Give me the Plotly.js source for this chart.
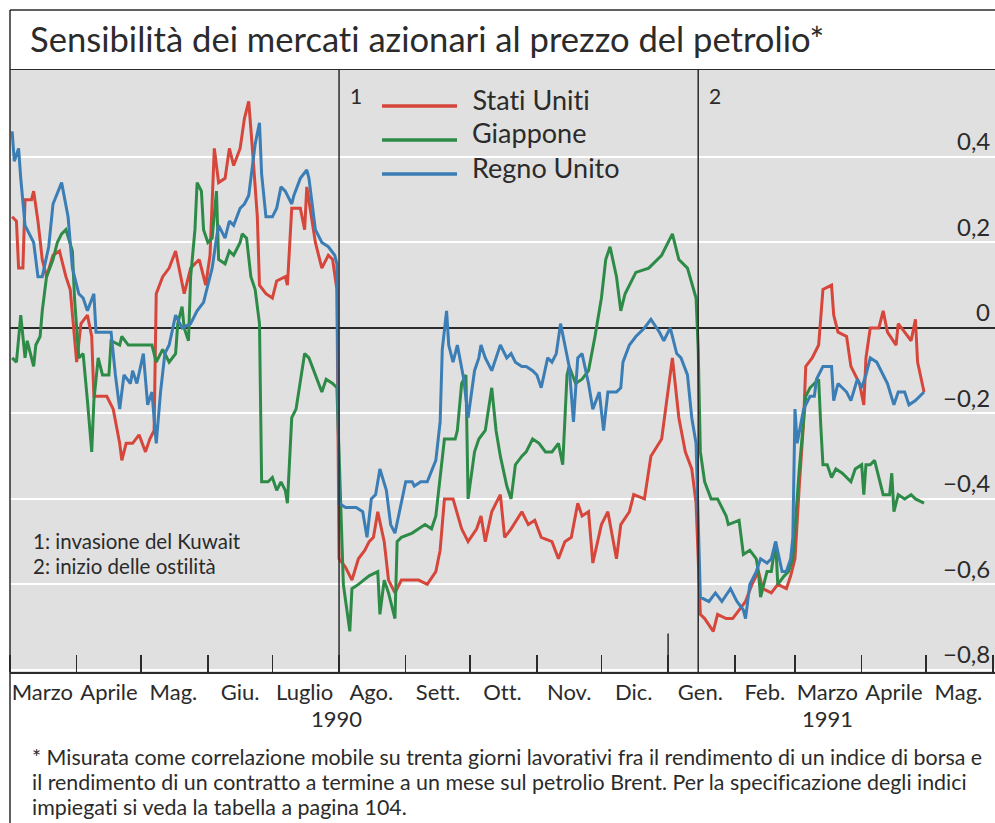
<!DOCTYPE html>
<html>
<head>
<meta charset="utf-8">
<script src="https://cdn.plot.ly/plotly-3.0.1.min.js"></script>
<style>
  html, body { margin: 0; padding: 0; background: #fff; }
  #chart { width: 995px; height: 823px; }
  #chart text { font-variant-ligatures: none; font-feature-settings: "liga" 0; }
</style>
</head>
<body>
<div id="chart"></div>
<script>
// month labels as printed, placed in the middle of each month
let month_labels = ["Marzo", "Aprile", "Mag.", "Giu.", "Luglio", "Ago.", "Sett.", "Ott.",
  "Nov.", "Dic.", "Gen.", "Feb.", "Marzo", "Aprile", "Mag."];
let month_mids = ["1990-03-16", "1990-04-16", "1990-05-16", "1990-06-16", "1990-07-16",
  "1990-08-16", "1990-09-16", "1990-10-16", "1990-11-16", "1990-12-16", "1991-01-16",
  "1991-02-15", "1991-03-16", "1991-04-16", "1991-05-16"];

let y_ticks = [-0.8, -0.6, -0.4, -0.2, 0, 0.2, 0.4];
let y_tick_labels = ["\u22120,8", "\u22120,6", "\u22120,4", "\u22120,2", "0", "0,2", "0,4"];

let series_names = ["Stati Uniti", "Giappone", "Regno Unito"];
let series_colors = ["#d6463b", "#2e8b47", "#3b7db5"];

// Stati Uniti
let dates_us = ["1990-03-02","1990-03-04","1990-03-05","1990-03-07","1990-03-08","1990-03-11","1990-03-12","1990-03-14","1990-03-16","1990-03-18","1990-03-21","1990-03-24","1990-03-27","1990-03-29","1990-04-01","1990-04-03","1990-04-06","1990-04-08","1990-04-09","1990-04-15","1990-04-18","1990-04-21","1990-04-22","1990-04-24","1990-04-27","1990-04-30","1990-05-03","1990-05-05","1990-05-07","1990-05-08","1990-05-11","1990-05-14","1990-05-17","1990-05-19","1990-05-21","1990-05-24","1990-05-28","1990-05-31","1990-06-02","1990-06-04","1990-06-06","1990-06-09","1990-06-11","1990-06-13","1990-06-16","1990-06-18","1990-06-20","1990-06-22","1990-06-24","1990-06-25","1990-06-28","1990-07-01","1990-07-03","1990-07-07","1990-07-08","1990-07-10","1990-07-14","1990-07-16","1990-07-17","1990-07-21","1990-07-24","1990-07-27","1990-07-29","1990-07-31","1990-08-01","1990-08-04","1990-08-07","1990-08-10","1990-08-13","1990-08-15","1990-08-17","1990-08-19","1990-08-22","1990-08-24","1990-08-27","1990-08-30","1990-09-02","1990-09-07","1990-09-11","1990-09-15","1990-09-17","1990-09-19","1990-09-23","1990-09-27","1990-09-30","1990-10-04","1990-10-06","1990-10-08","1990-10-11","1990-10-15","1990-10-17","1990-10-20","1990-10-25","1990-10-28","1990-10-31","1990-11-03","1990-11-08","1990-11-11","1990-11-14","1990-11-17","1990-11-20","1990-11-22","1990-11-25","1990-11-27","1990-12-01","1990-12-04","1990-12-08","1990-12-10","1990-12-14","1990-12-16","1990-12-21","1990-12-24","1990-12-29","1990-12-31","1991-01-03","1991-01-06","1991-01-09","1991-01-12","1991-01-14","1991-01-16","1991-01-18","1991-01-22","1991-01-24","1991-01-28","1991-01-31","1991-02-03","1991-02-06","1991-02-09","1991-02-12","1991-02-14","1991-02-18","1991-02-21","1991-02-25","1991-02-27","1991-03-01","1991-03-03","1991-03-05","1991-03-06","1991-03-09","1991-03-12","1991-03-14","1991-03-18","1991-03-19","1991-03-21","1991-03-25","1991-03-27","1991-03-31","1991-04-02","1991-04-03","1991-04-05","1991-04-09","1991-04-11","1991-04-13","1991-04-17","1991-04-18","1991-04-21","1991-04-24","1991-04-26","1991-04-27","1991-04-30"];
let values_us = [0.26,0.25,0.14,0.14,0.30,0.30,0.32,0.25,0.16,0.12,0.17,0.18,0.12,0.09,-0.08,0.01,0.03,-0.02,-0.16,-0.16,-0.19,-0.27,-0.31,-0.27,-0.27,-0.25,-0.29,-0.26,-0.24,0.08,0.12,0.14,0.18,0.13,0.08,0.14,0.16,0.10,0.17,0.42,0.34,0.35,0.42,0.38,0.42,0.49,0.53,0.40,0.26,0.10,0.08,0.07,0.11,0.12,0.10,0.28,0.28,0.23,0.33,0.20,0.14,0.17,0.16,0.09,-0.54,-0.56,-0.59,-0.54,-0.52,-0.50,-0.49,-0.43,-0.50,-0.59,-0.62,-0.59,-0.59,-0.59,-0.60,-0.57,-0.52,-0.40,-0.40,-0.47,-0.50,-0.47,-0.44,-0.50,-0.43,-0.39,-0.49,-0.47,-0.43,-0.46,-0.45,-0.49,-0.50,-0.54,-0.50,-0.49,-0.41,-0.44,-0.43,-0.55,-0.46,-0.43,-0.54,-0.46,-0.43,-0.39,-0.40,-0.30,-0.26,-0.18,-0.07,-0.21,-0.29,-0.33,-0.41,-0.67,-0.68,-0.71,-0.67,-0.68,-0.68,-0.66,-0.64,-0.60,-0.57,-0.61,-0.62,-0.60,-0.61,-0.58,-0.54,-0.37,-0.22,-0.09,-0.07,-0.04,0.09,0.10,0.03,-0.01,-0.02,-0.09,-0.13,-0.18,-0.07,0.00,0.00,0.04,-0.01,-0.04,0.01,-0.01,-0.03,0.02,-0.08,-0.15];

// Giappone
let dates_jp = ["1990-03-02","1990-03-04","1990-03-06","1990-03-08","1990-03-09","1990-03-12","1990-03-13","1990-03-15","1990-03-16","1990-03-18","1990-03-21","1990-03-23","1990-03-25","1990-03-27","1990-03-30","1990-03-31","1990-04-02","1990-04-04","1990-04-06","1990-04-08","1990-04-09","1990-04-11","1990-04-13","1990-04-16","1990-04-17","1990-04-21","1990-04-22","1990-04-25","1990-04-30","1990-05-06","1990-05-08","1990-05-11","1990-05-14","1990-05-17","1990-05-18","1990-05-20","1990-05-21","1990-05-23","1990-05-24","1990-05-26","1990-05-27","1990-05-29","1990-05-30","1990-06-01","1990-06-03","1990-06-05","1990-06-06","1990-06-09","1990-06-11","1990-06-13","1990-06-16","1990-06-17","1990-06-19","1990-06-21","1990-06-23","1990-06-25","1990-06-26","1990-06-29","1990-07-01","1990-07-03","1990-07-05","1990-07-07","1990-07-08","1990-07-10","1990-07-12","1990-07-14","1990-07-16","1990-07-18","1990-07-21","1990-07-24","1990-07-26","1990-07-29","1990-07-31","1990-08-03","1990-08-06","1990-08-07","1990-08-10","1990-08-15","1990-08-19","1990-08-20","1990-08-22","1990-08-24","1990-08-27","1990-08-28","1990-08-30","1990-09-04","1990-09-07","1990-09-10","1990-09-13","1990-09-15","1990-09-19","1990-09-22","1990-09-24","1990-09-25","1990-09-27","1990-09-29","1990-09-30","1990-10-03","1990-10-05","1990-10-08","1990-10-11","1990-10-13","1990-10-15","1990-10-18","1990-10-20","1990-10-22","1990-10-25","1990-10-27","1990-10-30","1990-11-02","1990-11-05","1990-11-08","1990-11-11","1990-11-13","1990-11-15","1990-11-16","1990-11-19","1990-11-22","1990-11-25","1990-11-28","1990-12-01","1990-12-03","1990-12-05","1990-12-08","1990-12-10","1990-12-12","1990-12-17","1990-12-23","1990-12-29","1991-01-03","1991-01-06","1991-01-10","1991-01-14","1991-01-15","1991-01-16","1991-01-18","1991-01-21","1991-01-24","1991-01-28","1991-01-29","1991-02-03","1991-02-05","1991-02-08","1991-02-11","1991-02-12","1991-02-13","1991-02-16","1991-02-18","1991-02-20","1991-02-21","1991-02-24","1991-02-26","1991-02-28","1991-03-01","1991-03-03","1991-03-06","1991-03-08","1991-03-10","1991-03-12","1991-03-13","1991-03-14","1991-03-16","1991-03-18","1991-03-20","1991-03-23","1991-03-27","1991-03-29","1991-04-01","1991-04-02","1991-04-03","1991-04-05","1991-04-07","1991-04-09","1991-04-11","1991-04-14","1991-04-15","1991-04-16","1991-04-18","1991-04-21","1991-04-24","1991-04-26","1991-04-30"];
let values_jp = [-0.07,-0.08,0.03,-0.07,-0.03,-0.09,-0.04,-0.02,0.04,0.12,0.16,0.20,0.22,0.23,0.18,0.07,-0.07,-0.06,-0.17,-0.29,-0.17,-0.07,-0.11,-0.11,-0.03,-0.04,-0.02,-0.04,-0.04,-0.04,-0.08,-0.05,-0.08,-0.06,0.01,0.05,0.00,-0.03,0.12,0.23,0.34,0.32,0.23,0.20,0.21,0.32,0.16,0.15,0.18,0.17,0.20,0.22,0.21,0.12,0.09,0.01,-0.36,-0.36,-0.35,-0.38,-0.36,-0.38,-0.41,-0.21,-0.19,-0.12,-0.06,-0.07,-0.11,-0.15,-0.12,-0.13,-0.14,-0.60,-0.71,-0.61,-0.60,-0.58,-0.57,-0.67,-0.59,-0.62,-0.68,-0.50,-0.49,-0.48,-0.47,-0.46,-0.47,-0.44,-0.26,-0.26,-0.26,-0.24,-0.13,-0.11,-0.40,-0.29,-0.26,-0.24,-0.14,-0.24,-0.30,-0.37,-0.40,-0.32,-0.30,-0.29,-0.26,-0.27,-0.29,-0.29,-0.27,-0.32,-0.11,-0.09,-0.13,-0.12,-0.10,-0.02,0.07,0.16,0.19,0.12,0.04,0.08,0.13,0.14,0.17,0.22,0.16,0.14,0.07,-0.05,-0.29,-0.36,-0.40,-0.40,-0.44,-0.46,-0.45,-0.53,-0.52,-0.54,-0.57,-0.63,-0.57,-0.57,-0.50,-0.60,-0.58,-0.57,-0.54,-0.47,-0.33,-0.16,-0.14,-0.13,-0.12,-0.23,-0.32,-0.32,-0.35,-0.33,-0.34,-0.36,-0.33,-0.32,-0.39,-0.32,-0.32,-0.31,-0.35,-0.39,-0.39,-0.34,-0.43,-0.39,-0.40,-0.39,-0.40,-0.41];

// Regno Unito
let dates_uk = ["1990-03-02","1990-03-03","1990-03-05","1990-03-06","1990-03-08","1990-03-12","1990-03-14","1990-03-16","1990-03-19","1990-03-21","1990-03-25","1990-03-28","1990-03-30","1990-04-02","1990-04-04","1990-04-06","1990-04-09","1990-04-10","1990-04-15","1990-04-17","1990-04-19","1990-04-21","1990-04-23","1990-04-26","1990-04-27","1990-04-29","1990-05-02","1990-05-04","1990-05-06","1990-05-08","1990-05-10","1990-05-12","1990-05-14","1990-05-17","1990-05-20","1990-05-24","1990-05-27","1990-05-30","1990-06-01","1990-06-03","1990-06-05","1990-06-06","1990-06-09","1990-06-11","1990-06-13","1990-06-16","1990-06-18","1990-06-20","1990-06-23","1990-06-25","1990-06-26","1990-06-28","1990-07-01","1990-07-03","1990-07-05","1990-07-07","1990-07-10","1990-07-11","1990-07-14","1990-07-17","1990-07-18","1990-07-21","1990-07-24","1990-07-27","1990-07-30","1990-07-31","1990-08-01","1990-08-04","1990-08-09","1990-08-12","1990-08-14","1990-08-16","1990-08-18","1990-08-20","1990-08-23","1990-08-25","1990-08-27","1990-08-30","1990-09-01","1990-09-04","1990-09-05","1990-09-08","1990-09-11","1990-09-15","1990-09-17","1990-09-18","1990-09-20","1990-09-21","1990-09-23","1990-09-25","1990-09-28","1990-09-30","1990-10-03","1990-10-05","1990-10-06","1990-10-08","1990-10-11","1990-10-13","1990-10-15","1990-10-18","1990-10-20","1990-10-22","1990-10-25","1990-10-27","1990-10-30","1990-11-01","1990-11-03","1990-11-06","1990-11-08","1990-11-10","1990-11-12","1990-11-14","1990-11-16","1990-11-18","1990-11-20","1990-11-22","1990-11-25","1990-11-27","1990-11-30","1990-12-02","1990-12-04","1990-12-08","1990-12-10","1990-12-11","1990-12-14","1990-12-17","1990-12-21","1990-12-24","1990-12-28","1990-12-30","1991-01-02","1991-01-05","1991-01-07","1991-01-10","1991-01-12","1991-01-14","1991-01-16","1991-01-20","1991-01-23","1991-01-26","1991-01-30","1991-02-02","1991-02-05","1991-02-06","1991-02-08","1991-02-11","1991-02-13","1991-02-16","1991-02-18","1991-02-20","1991-02-23","1991-02-25","1991-02-27","1991-02-28","1991-03-01","1991-03-02","1991-03-05","1991-03-08","1991-03-10","1991-03-11","1991-03-14","1991-03-18","1991-03-19","1991-03-21","1991-03-25","1991-03-27","1991-03-30","1991-04-01","1991-04-03","1991-04-05","1991-04-08","1991-04-11","1991-04-13","1991-04-16","1991-04-18","1991-04-21","1991-04-23","1991-04-26","1991-04-30"];
let values_uk = [0.46,0.39,0.42,0.35,0.24,0.20,0.12,0.12,0.19,0.29,0.34,0.26,0.14,0.08,0.07,0.04,0.08,-0.01,-0.01,-0.01,-0.11,-0.19,-0.11,-0.13,-0.10,-0.13,-0.06,-0.18,-0.15,-0.27,-0.15,-0.06,-0.04,0.03,0.00,0.01,0.04,0.06,0.10,0.14,0.21,0.24,0.21,0.25,0.24,0.28,0.29,0.31,0.43,0.48,0.36,0.26,0.26,0.28,0.33,0.32,0.29,0.31,0.35,0.37,0.35,0.23,0.20,0.19,0.17,0.15,-0.41,-0.42,-0.42,-0.43,-0.49,-0.40,-0.39,-0.33,-0.38,-0.46,-0.48,-0.41,-0.36,-0.36,-0.37,-0.36,-0.36,-0.31,-0.22,-0.05,0.04,-0.04,-0.08,-0.04,-0.12,-0.21,-0.10,-0.07,-0.04,-0.07,-0.10,-0.07,-0.04,-0.07,-0.06,-0.08,-0.09,-0.09,-0.10,-0.11,-0.14,-0.07,-0.08,-0.06,0.01,-0.04,-0.09,-0.22,-0.07,-0.06,-0.13,-0.19,-0.15,-0.24,-0.15,-0.15,-0.14,-0.08,-0.04,-0.02,0.00,0.02,-0.01,-0.03,0.00,-0.06,-0.07,-0.11,-0.21,-0.27,-0.63,-0.64,-0.62,-0.64,-0.61,-0.64,-0.66,-0.68,-0.60,-0.57,-0.54,-0.55,-0.54,-0.50,-0.57,-0.57,-0.54,-0.49,-0.19,-0.27,-0.19,-0.16,-0.16,-0.12,-0.09,-0.09,-0.17,-0.13,-0.15,-0.17,-0.12,-0.14,-0.11,-0.07,-0.08,-0.11,-0.13,-0.18,-0.15,-0.15,-0.18,-0.17,-0.15];

let event_dates = ["1990-08-01", "1991-01-15"];
let event_labels = ["1", "2"];
let year_labels = ["1990", "1991"];
let year_dates = ["1990-07-31", "1991-03-16"];
let event_notes = ["1: invasione del Kuwait", "2: inizio delle ostilità"];
let footnote_lines = [
  "* Misurata come correlazione mobile su trenta giorni lavorativi fra il rendimento di un indice di borsa e",
  "il rendimento di un contratto a termine a un mese sul petrolio Brent. Per la specificazione degli indici",
  "impiegati si veda la tabella a pagina 104.",
];

let ink = "#2b2b2b";
let all_dates = [dates_us, dates_jp, dates_uk];
let all_values = [values_us, values_jp, values_uk];

let data = [];
for (let i = 0; i < series_names.length; i++) {
  data.push({
    x: all_dates[i],
    y: all_values[i],
    name: series_names[i],
    mode: "lines",
    type: "scatter",
    line: { color: series_colors[i], width: 3 },
  });
}

// paper coordinates of the frame (plot area is 70..672 px tall on an 823 px page)
let plot_h = 602;
function paper_y(px) {
  return (672 - px) / plot_h;
}
function paper_x(px) {
  return (px - 10) / 985;
}

let shapes = [
  { type: "line", xref: "paper", yref: "paper", x0: 0, x1: 1, y0: paper_y(10), y1: paper_y(10),
    line: { color: ink, width: 1.5 } },
  { type: "line", xref: "paper", yref: "paper", x0: 0, x1: 0, y0: paper_y(823), y1: paper_y(10),
    line: { color: ink, width: 1.5 } },
  // taller tick at the turn of the year
  { type: "line", xref: "x", yref: "y", x0: "1991-01-01", x1: "1991-01-01", y0: -0.805, y1: -0.715,
    line: { color: ink, width: 1.5 } },
];
let annotations = [];

// value labels sit just above their gridline, inside the right edge
for (let i = 0; i < y_ticks.length; i++) {
  annotations.push({
    text: y_tick_labels[i], xref: "paper", yref: "y", x: 1, y: y_ticks[i],
    xanchor: "right", yanchor: "middle", xshift: -3, yshift: 16, showarrow: false,
    font: { size: 24, color: ink },
  });
}

for (let i = 0; i < event_dates.length; i++) {
  shapes.push({
    type: "line", xref: "x", yref: "paper", x0: event_dates[i], x1: event_dates[i], y0: 0, y1: 1,
    line: { color: ink, width: 1.5 }, layer: "above",
  });
  annotations.push({
    text: event_labels[i], xref: "x", yref: "paper", x: event_dates[i], y: paper_y(96),
    xanchor: "left", yanchor: "middle", xshift: 9, showarrow: false, font: { size: 21, color: ink },
  });
}

// legend drawn by hand so the line samples can be long
let legend_y = [106, 140, 174];
for (let i = 0; i < series_names.length; i++) {
  shapes.push({
    type: "line", xref: "paper", yref: "paper", x0: paper_x(382), x1: paper_x(457),
    y0: paper_y(legend_y[i]), y1: paper_y(legend_y[i]),
    line: { color: series_colors[i], width: 3.5 },
  });
  annotations.push({
    text: series_names[i], xref: "paper", yref: "paper", x: paper_x(470), y: paper_y(legend_y[i] - 7),
    xanchor: "left", yanchor: "middle", showarrow: false, font: { size: 27, color: ink },
  });
}

for (let i = 0; i < year_labels.length; i++) {
  annotations.push({
    text: year_labels[i], xref: "x", yref: "paper", x: year_dates[i], y: paper_y(718),
    xanchor: "center", yanchor: "middle", showarrow: false, font: { size: 22, color: ink },
  });
}

for (let i = 0; i < event_notes.length; i++) {
  annotations.push({
    text: event_notes[i], xref: "paper", yref: "paper", x: paper_x(31), y: paper_y(541 + 25 * i),
    xanchor: "left", yanchor: "middle", align: "left", showarrow: false,
    font: { size: 20.5, color: ink },
  });
}

for (let i = 0; i < footnote_lines.length; i++) {
  annotations.push({
    text: footnote_lines[i], xref: "paper", yref: "paper", x: paper_x(30), y: paper_y(757 + 25 * i),
    xanchor: "left", yanchor: "middle", align: "left", showarrow: false,
    font: { size: 21.4, color: ink },
  });
}

let layout = {
  width: 995,
  height: 823,
  margin: { l: 10, r: 0, t: 70, b: 151 },
  paper_bgcolor: "#ffffff",
  plot_bgcolor: "#e0e0e0",
  font: { family: "Lato, 'Open Sans', sans-serif", color: ink },
  showlegend: false,
  title: {
    text: "Sensibilità dei mercati azionari al prezzo del petrolio*",
    font: { size: 34.6, color: ink },
    xref: "container", yref: "container",
    x: 30 / 995, xanchor: "left",
    y: 1 - 40 / 823, yanchor: "middle",
  },
  xaxis: {
    type: "date",
    range: ["1990-03-01", "1991-06-02"],
    tickmode: "array",
    tickvals: month_mids,
    ticktext: month_labels,
    ticks: "",
    tickfont: { size: 22, color: ink },
    minor: {
      tick0: "1990-03-01",
      dtick: "M1",
      ticks: "inside",
      ticklen: 17,
      tickwidth: 1.5,
      tickcolor: ink,
      showgrid: false,
    },
    showgrid: false,
    zeroline: false,
    showline: true,
    linecolor: ink,
    linewidth: 1.5,
    mirror: true,
    fixedrange: true,
  },
  yaxis: {
    range: [-0.805, 0.6035],
    side: "right",
    tickmode: "array",
    tickvals: y_ticks,
    showticklabels: false,
    ticks: "",
    showgrid: true,
    gridcolor: "#ffffff",
    gridwidth: 2,
    zeroline: true,
    zerolinecolor: ink,
    zerolinewidth: 1.3,
    showline: false,
    fixedrange: true,
  },
  shapes: shapes,
  annotations: annotations,
};

let config = { displayModeBar: false, staticPlot: true };

Plotly.newPlot("chart", data, layout, config);
</script>
</body>
</html>
